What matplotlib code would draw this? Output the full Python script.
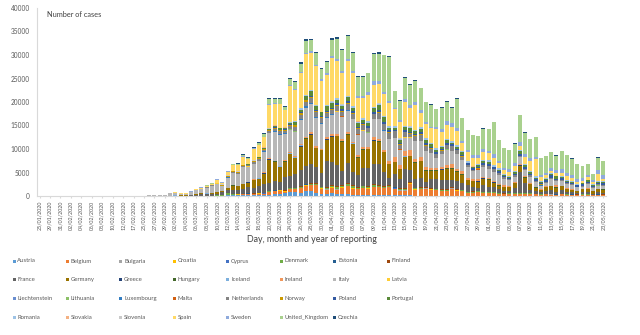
import numpy as np
import pandas as pd
import matplotlib as mpl
mpl.use('agg')
import matplotlib.pyplot as plt
from matplotlib.patches import Rectangle

plt.rcParams['font.family'] = ['Lato', 'DejaVu Sans']

# reporting days (gaps in early February, daily from 24/02)
early_days = ['25/01/2020', '27/01/2020', '29/01/2020', '30/01/2020', '31/01/2020',
              '01/02/2020', '02/02/2020', '03/02/2020', '04/02/2020', '05/02/2020',
              '06/02/2020', '07/02/2020', '08/02/2020', '09/02/2020', '10/02/2020',
              '11/02/2020', '12/02/2020', '15/02/2020', '17/02/2020']
dates = early_days + list(pd.date_range('2020-02-24', '2020-05-23').strftime('%d/%m/%Y'))

# daily new cases per country
austria = [0,0,0,0,0,0,0,0,0,0,0,0,0,0,0,0,0,0,0, 0,0,2,1,3,5,5,
    8,8,8,12,10,16,25,32,30,50,
    120,140,150,150,200,200,300,250,
    300,400,500,600,900,800,700,1141,1000,600,500,500,
    564,500,400,400,300,300,300,300,300,250,250,250,200,150,150,150,100,100,100,80,70,80,80,80,80,
    60,50,60,60,70,60,40,40,40,30,40,50,60,40,30,20,30,40,30,40,30,30,20,20,30,20,20,20]
belgium = [0,0,0,0,0,0,0,0,1,0,0,0,0,0,0,0,0,0,0, 0,0,0,0,0,0,1,
    0,6,10,5,60,60,60,30,39,28,
    160,130,160,200,170,190,200,240,
    460,560,590,310,526,668,900,1049,1300,1702,1063,876,
    1189,876,1384,1661,1260,1123,1380,1209,1580,1684,1351,1629,1329,1000,1000,2454,1236,1329,1487,1224,1142,973,933,1496,1032,
    1000,553,647,701,600,500,600,400,300,361,300,300,400,350,300,200,300,250,200,300,200,200,200,200,200,150,200,200]
bulgaria = [0,0,0,0,0,0,0,0,0,0,0,0,0,0,0,0,0,0,0, 0,0,0,0,0,0,0,
    0,0,0,0,0,0,4,0,0,2,
    1,16,0,20,10,14,30,11,
    36,20,15,16,18,10,22,13,20,30,27,40,
    40,30,20,20,25,35,40,48,25,10,20,30,30,45,30,40,35,80,25,60,40,30,40,60,50,
    30,40,20,50,40,40,60,70,30,20,60,30,40,50,60,80,40,30,20,40,40,30,20,10,20,40,30,30]
croatia = [0,0,0,0,0,0,0,0,0,0,0,0,0,0,0,0,0,0,0, 0,0,1,2,0,2,2,
    1,2,3,2,0,0,1,0,1,2,
    13,5,10,7,10,24,26,28,
    40,50,80,70,40,40,90,60,80,70,50,60,
    60,70,80,70,60,50,50,40,50,40,30,30,30,20,20,20,20,30,20,20,20,10,10,10,10,
    10,10,10,5,5,5,5,5,5,5,5,5,5,5,3,3,3,2,2,2,2,2,2,1,1,1,1,1]
cyprus = [0,0,0,0,0,0,0,0,0,0,0,0,0,0,0,0,0,0,0, 0,0,0,0,0,0,0,
    0,0,0,0,0,0,0,0,2,0,
    4,0,7,13,7,5,9,8,
    10,20,10,20,10,20,10,20,20,30,20,20,
    30,20,20,20,30,20,20,20,20,10,10,10,10,10,10,10,10,10,10,10,10,10,5,5,5,
    5,5,5,5,5,5,5,5,5,5,5,5,5,5,5,5,5,5,5,5,5,5,5,5,5,5,5,5]
denmark = [0,0,0,0,0,0,0,0,0,0,0,0,0,0,0,0,0,0,0, 0,0,0,0,1,1,1,
    0,1,5,5,10,8,7,15,70,170,
    250,160,35,40,80,70,95,100,
    150,100,90,60,120,140,210,150,180,130,200,250,
    280,370,270,340,390,230,290,300,330,200,180,180,190,270,210,170,200,150,130,110,150,160,210,100,130,
    150,150,120,160,130,140,130,100,90,130,140,160,140,110,80,60,70,80,60,70,80,50,60,90,70,50,60,40]
estonia = [0,0,0,0,0,0,0,0,0,0,0,0,0,0,0,0,0,0,0, 0,0,0,0,1,0,0,
    0,0,1,0,0,0,3,6,3,4,
    10,30,60,30,80,20,50,30,
    30,40,30,20,50,20,40,60,40,30,40,30,
    60,60,50,60,50,40,50,60,70,40,70,50,30,40,40,20,20,30,30,20,10,20,20,30,20,
    10,10,20,10,10,10,10,5,5,5,10,5,5,5,5,5,5,5,10,5,5,5,0,5,5,5,5,5]
finland = [0,0,0,1,0,0,0,0,0,0,0,0,0,0,0,0,0,0,0, 0,0,0,1,0,1,0,
    0,1,1,3,4,4,6,6,10,15,
    20,50,70,40,80,50,30,50,
    50,70,50,80,60,60,100,80,90,70,70,80,
    80,120,120,100,150,140,90,110,150,150,130,120,120,110,170,100,90,110,130,90,120,110,120,90,80,
    60,90,100,90,80,90,70,80,60,90,70,50,50,60,40,50,50,40,30,40,50,40,30,40,30,40,30,20]
france = [3,0,0,0,1,0,0,0,0,0,0,5,0,0,0,0,0,1,0, 2,0,2,20,20,10,40,
    30,60,73,138,190,336,230,286,372,497,
    595,785,838,924,1210,1097,1404,1861,
    1617,1847,1559,2800,2446,2931,3500,3809,4000,3500,3000,5500,
    4861,4500,3000,4267,2800,2500,3777,3881,4286,4342,3114,1613,2673,2000,4200,2633,2000,1909,1000,2000,2000,2000,2000,1600,1700,
    1500,1400,1000,700,1300,1000,1000,700,600,500,1100,4600,2000,600,600,500,456,802,500,700,500,400,400,500,400,200,400,400]
germany = [0,1,3,1,0,1,2,2,0,2,0,1,1,0,0,2,0,0,0, 0,0,6,30,10,30,50,
    66,36,40,80,200,240,170,250,300,350,
    500,900,800,1100,1000,1700,1500,2200,
    5000,4200,3250,3300,4764,3300,4954,5780,6294,3965,4751,4615,
    5453,6156,6174,6082,5936,3677,3834,4003,4974,4800,4133,2821,2537,2082,2486,2866,3380,3609,2458,1775,1785,2237,2352,2337,2055,
    1737,1018,1144,1304,1478,1639,945,793,679,685,947,1284,1209,1251,667,357,933,798,933,913,620,583,342,513,797,460,745,638]
greece = [0,0,0,0,0,0,0,0,0,0,0,0,0,0,0,0,0,0,0, 0,0,0,1,2,1,0,
    1,6,5,2,5,14,13,28,16,10,
    22,17,38,43,29,35,15,80,
    80,30,50,60,70,100,70,50,90,50,60,90,
    80,70,50,60,60,60,50,40,40,30,30,40,20,20,20,30,20,30,20,10,20,10,10,20,10,
    10,10,20,10,10,10,20,10,10,20,10,10,10,10,5,5,10,10,5,10,10,5,5,10,10,5,10,5]
hungary = [0,0,0,0,0,0,0,0,0,0,0,0,0,0,0,0,0,0,0, 0,0,0,0,0,0,0,
    0,0,0,2,0,2,2,1,4,2,
    3,3,3,2,10,7,11,5,
    20,20,20,40,30,40,40,40,40,40,30,40,
    40,40,60,60,70,70,60,60,80,100,80,80,90,60,60,50,50,60,100,100,90,80,90,70,80,
    70,60,50,50,40,50,40,40,40,40,30,30,30,40,30,30,30,30,20,30,30,30,20,20,20,20,30,20]
iceland = [0,0,0,0,0,0,0,0,0,0,0,0,0,0,0,0,0,0,0, 0,0,0,0,0,1,0,
    1,5,3,10,6,10,12,10,15,20,
    20,30,20,40,30,70,80,60,
    80,70,60,70,90,100,110,80,60,50,60,50,
    90,50,40,50,40,30,30,20,30,20,10,20,10,10,10,10,5,5,5,5,5,5,3,3,3,
    3,2,1,1,1,0,0,1,0,0,1,0,0,0,1,0,0,0,0,1,0,0,0,0,0,0,1,0]
ireland = [0,0,0,0,0,0,0,0,0,0,0,0,0,0,0,0,0,0,0, 0,0,0,0,0,1,0,
    1,0,1,4,5,13,5,3,0,10,
    9,27,20,40,60,50,70,190,
    130,100,130,120,200,200,235,255,302,294,200,325,
    295,325,424,331,390,370,365,345,515,500,480,553,992,832,1068,1220,709,777,597,493,401,388,631,936,577,
    701,400,386,376,359,376,221,330,375,265,159,350,221,236,129,100,159,107,426,64,120,100,50,70,60,50,50,50]
italy = [0,0,0,0,2,0,0,0,0,0,0,1,0,0,0,0,0,0,0, 70,100,100,200,230,200,450,
    600,360,340,587,769,778,1247,1492,1797,977,
    2200,2651,2547,3497,3300,3300,3526,4207,
    5322,5986,6557,5560,4789,5249,5210,6153,5959,5974,5217,4050,
    4053,4782,4668,4585,4805,4316,3599,3039,3836,4204,3951,4694,4092,3153,2972,2667,3786,3493,3491,3047,2256,2729,3370,2646,3021,
    2357,2324,1739,2091,2086,1872,1965,1900,1389,1221,1075,1444,1401,1327,1083,802,744,1402,888,992,789,875,675,451,813,665,642,652]
latvia = [0,0,0,0,0,0,0,0,0,0,0,0,0,0,0,0,0,0,0, 0,0,0,0,0,0,0,
    0,0,1,0,0,0,1,0,4,3,
    9,4,4,8,20,10,15,10,
    10,30,20,20,20,20,30,20,30,30,30,20,
    20,20,20,20,10,20,10,20,20,10,20,10,10,10,10,10,10,10,10,10,10,10,5,5,5,
    5,5,5,5,5,5,5,5,5,5,5,5,5,5,5,5,5,5,5,5,5,5,5,5,5,5,5,5]
liechtenstein = [0,0,0,0,0,0,0,0,0,0,0,0,0,0,0,0,0,0,0, 0,0,0,0,0,0,0,
    0,0,0,0,0,0,0,0,0,0,
    0,0,1,1,2,0,1,2,
    3,2,5,5,5,5,5,5,5,5,5,5,
    3,3,3,2,2,2,2,1,1,1,1,1,1,1,1,0,0,0,0,0,0,0,0,0,0,
    0,0,0,0,0,0,0,0,0,0,0,0,0,0,0,0,0,0,0,0,0,0,0,0,0,0,0,0]
lithuania = [0,0,0,0,0,0,0,0,0,0,0,0,0,0,0,0,0,0,0, 0,0,0,0,1,0,0,
    0,0,0,0,0,0,1,0,0,1,
    0,1,2,2,6,5,8,10,
    20,20,30,40,50,50,50,30,50,40,40,30,
    30,40,40,30,30,40,30,30,20,30,20,40,30,30,20,20,30,20,20,20,20,20,30,20,20,
    20,10,10,10,10,20,10,10,10,10,10,10,10,10,10,10,10,10,10,10,5,5,10,5,10,5,5,10]
luxembourg = [0,0,0,0,0,0,0,0,0,0,0,0,0,0,0,0,0,0,0, 0,0,0,0,0,0,0,
    0,0,0,0,1,1,1,0,2,2,
    3,10,20,30,40,60,120,130,
    80,200,130,140,140,150,200,250,200,140,150,140,
    120,100,90,80,70,60,100,60,50,50,70,40,40,50,40,30,40,30,20,20,20,20,20,10,20,
    10,10,10,10,10,10,5,5,5,5,10,10,10,5,5,5,5,5,5,5,5,5,5,5,5,5,5,5]
malta = [0,0,0,0,0,0,0,0,0,0,0,0,0,0,0,0,0,0,0, 0,0,0,0,0,0,0,
    0,0,0,0,0,0,1,0,2,1,
    2,3,1,8,3,1,17,5,
    10,10,10,10,10,10,10,10,20,10,10,10,
    10,10,10,10,10,10,10,10,10,10,10,5,5,5,5,5,5,5,5,5,5,5,5,5,5,
    5,5,5,5,5,5,5,5,5,5,5,5,5,5,5,5,5,5,5,5,5,5,5,5,5,5,5,5]
netherlands = [0,0,0,0,0,0,0,0,0,0,0,0,0,0,0,0,0,0,0, 0,0,0,0,1,6,10,
    8,6,14,20,44,46,60,77,56,61,
    121,111,155,176,155,278,292,346,
    409,534,637,573,545,811,852,1019,1172,1159,1104,884,
    1019,1083,1019,1224,904,1224,952,777,969,1213,1316,1174,1335,1000,1120,734,1061,1235,1066,964,750,729,887,1022,800,
    655,400,171,200,386,475,514,445,335,199,386,232,155,319,210,199,161,199,227,193,186,125,90,99,200,150,200,200]
norway = [0,0,0,0,0,0,0,0,0,0,0,0,0,0,0,0,0,0,0, 0,0,0,1,0,5,6,
    0,2,5,10,30,15,25,40,80,200,
    220,150,100,150,100,170,180,180,
    150,200,170,160,250,300,300,250,180,230,150,200,
    180,230,200,260,180,160,180,120,140,130,120,170,100,120,80,90,100,70,80,100,90,60,100,40,70,
    60,50,40,50,40,30,40,30,20,30,30,20,30,20,20,20,10,20,10,20,10,10,20,10,20,10,10,10]
poland = [0,0,0,0,0,0,0,0,0,0,0,0,0,0,0,0,0,0,0, 0,0,0,0,0,0,0,
    0,0,1,0,0,0,5,5,6,17,
    20,20,40,20,50,50,45,100,
    70,110,80,115,150,170,190,170,250,180,190,240,
    250,240,320,400,470,280,280,370,370,470,320,380,260,270,370,300,300,460,500,360,300,340,320,380,260,
    260,330,340,320,400,430,380,330,300,300,330,380,290,320,300,340,400,600,270,300,320,320,290,400,320,270,300,400]
portugal = [0,0,0,0,0,0,0,0,0,0,0,0,0,0,0,0,0,0,0, 0,0,0,0,0,0,0,
    2,2,2,4,3,8,9,9,11,11,
    20,19,34,57,80,86,200,190,
    200,260,320,260,300,600,550,724,902,792,800,1035,
    1000,808,783,852,638,754,712,699,815,1000,1000,598,349,629,643,750,600,663,657,521,516,371,603,371,444,
    595,163,183,295,300,500,200,300,200,100,400,500,500,400,300,200,234,219,553,300,200,200,150,200,300,200,250,250]
romania = [0,0,0,0,0,0,0,0,0,0,0,0,0,0,0,0,0,0,0, 0,0,0,1,0,2,0,
    0,0,1,1,2,3,0,5,6,6,
    22,13,15,42,19,41,45,16,
    50,120,70,100,140,110,260,220,200,190,140,190,
    250,330,160,190,430,330,300,350,280,340,330,280,360,280,220,380,250,410,350,190,310,270,360,320,280,
    230,250,190,300,320,290,230,300,270,310,250,220,200,220,260,190,190,150,130,230,180,150,210,180,170,200,170,190]
slovakia = [0,0,0,0,0,0,0,0,0,0,0,0,0,0,0,0,0,0,0, 0,0,0,0,0,0,0,
    0,0,0,0,0,1,2,2,3,0,
    3,12,11,12,30,10,30,20,
    20,40,20,30,30,30,30,50,20,30,30,40,
    20,30,40,30,40,50,20,40,40,30,30,30,20,30,30,20,10,20,20,20,10,10,10,10,10,
    10,5,5,5,5,5,5,5,5,3,3,3,3,3,5,3,3,2,2,2,2,2,2,2,2,2,2,2]
slovenia = [0,0,0,0,0,0,0,0,0,0,0,0,0,0,0,0,0,0,0, 0,0,0,0,0,0,0,
    0,0,0,1,1,2,8,4,5,10,
    40,50,80,40,30,20,10,30,
    30,40,30,40,40,40,40,50,30,40,40,30,
    40,40,40,30,30,30,30,20,30,20,20,20,10,20,10,20,20,10,10,10,10,10,10,5,5,
    5,5,3,3,5,3,5,2,3,2,2,2,3,2,1,1,3,2,1,1,2,3,1,1,1,2,1,1]
spain = [0,0,0,0,0,1,0,0,0,0,0,0,0,0,1,0,0,0,0, 0,2,6,8,10,15,20,
    39,60,40,60,110,220,240,260,560,400,
    700,1200,1300,1650,1000,2500,2470,2130,
    5000,4500,5000,3600,7600,6584,7400,8578,7871,8189,6549,6398,
    9222,7719,6600,7472,7026,5000,4273,5478,4680,4056,4576,4830,3547,3477,5092,4000,5252,3050,2950,3100,3996,3020,2980,3040,2960,
    1729,2000,1800,1200,1600,1500,1600,1000,800,800,900,1000,1500,2000,3700,800,594,600,500,700,800,600,400,400,500,500,1500,500]
sweden = [0,0,0,0,0,1,0,0,0,0,0,0,0,0,0,0,0,0,0, 0,0,0,1,6,5,0,
    7,1,13,20,40,40,66,42,120,120,
    160,150,160,100,130,100,120,100,
    200,150,130,100,300,240,300,400,350,300,330,330,
    400,500,600,500,450,400,500,700,700,700,500,500,400,400,500,500,600,600,500,400,500,600,700,750,800,
    500,400,600,680,700,500,800,500,400,500,700,800,600,600,500,400,500,600,700,800,600,600,500,500,500,400,800,700]
united_kingdom = [0,0,0,0,0,2,0,0,0,0,0,1,0,0,4,0,1,0,0, 0,0,0,0,4,3,12,
    13,4,11,34,30,48,43,67,46,50,
    85,130,200,340,230,150,400,600,
    1123,881,1027,671,1267,1412,1742,2454,2335,2581,2144,2492,
    3511,4348,4273,4824,3784,4079,3976,3930,5889,5850,7748,9472,3490,4176,4583,4361,4631,4595,4139,4636,3794,4513,4186,3329,6168,
    4816,4292,4340,3973,4351,4698,6745,4512,4132,4129,4183,5650,4604,4107,4131,3742,3539,3303,3063,3698,3835,3567,3283,2617,2380,1245,2673,2980]
czechia = [0,0,0,0,0,0,0,0,0,0,0,0,0,0,0,0,0,0,0, 0,0,0,0,0,0,3,
    0,3,2,0,3,7,11,8,16,22,
    30,20,45,80,50,80,130,150,
    90,180,120,230,220,260,300,370,250,250,170,230,
    300,290,250,230,260,140,230,170,200,280,150,120,100,130,80,100,120,60,90,70,60,70,110,120,50,
    60,80,30,50,90,60,100,50,30,40,80,60,50,30,30,30,10,40,40,40,60,70,50,40,30,70,50,60]

countries = ['Austria', 'Belgium', 'Bulgaria', 'Croatia', 'Cyprus', 'Denmark', 'Estonia', 'Finland',
             'France', 'Germany', 'Greece', 'Hungary', 'Iceland', 'Ireland', 'Italy', 'Latvia',
             'Liechtenstein', 'Lithuania', 'Luxembourg', 'Malta', 'Netherlands', 'Norway', 'Poland', 'Portugal',
             'Romania', 'Slovakia', 'Slovenia', 'Spain', 'Sweden', 'United_Kingdom', 'Czechia']
series = [austria, belgium, bulgaria, croatia, cyprus, denmark, estonia, finland,
          france, germany, greece, hungary, iceland, ireland, italy, latvia,
          liechtenstein, lithuania, luxembourg, malta, netherlands, norway, poland, portugal,
          romania, slovakia, slovenia, spain, sweden, united_kingdom, czechia]
colors = ['#5B9BD5', '#ED7D31', '#A5A5A5', '#FFC000', '#4472C4', '#70AD47', '#255E91', '#9E480E',
          '#636363', '#997300', '#264478', '#43682B', '#7CAFDD', '#F1975A', '#B7B7B7', '#FFCD33',
          '#698ED0', '#8CC168', '#327DC2', '#D26012', '#848484', '#CC9A00', '#335AA1', '#5A8A39',
          '#9DC3E6', '#F4B183', '#C9C9C9', '#FFD966', '#8FAADC', '#A9D18E', '#1F4E79']

for name, vals in zip(countries, series):
    if len(vals) != len(dates):
        raise ValueError('%s has %d values, expected %d' % (name, len(vals), len(dates)))

W, H = 640, 335
fig = plt.figure(figsize=(W / 100, H / 100), dpi=100)
ax = fig.add_axes([37 / W, 139 / H, 569 / W, 188 / H])

x = np.arange(len(dates))
bottom = np.zeros(len(dates))
for name, vals, col in zip(countries, series, colors):
    vals = np.array(vals, dtype=float)
    ax.bar(x, vals, 0.76, bottom=bottom, color=col, linewidth=0, label=name)
    bottom += vals

ax.set_xlim(-0.5, len(dates) - 0.5)
ax.set_ylim(0, 40000)
ax.set_yticks(np.arange(0, 40001, 5000))
ax.set_xticks(x[::2])
ax.set_xticklabels(dates[::2], rotation=90, fontsize=3.9, color='#595959')
ax.tick_params(axis='y', labelsize=4.7, labelcolor='#595959', length=0, pad=5)
ax.tick_params(axis='x', length=1.5, color='#D9D9D9', pad=2)
for s in ['top', 'right']:
    ax.spines[s].set_visible(False)
for s in ['left', 'bottom']:
    ax.spines[s].set_color('#D9D9D9')
    ax.spines[s].set_linewidth(0.8)

ax.text(0.017, 0.985, 'Number of cases', transform=ax.transAxes, fontsize=5.3,
        color='#404040', ha='left', va='top')
fig.text(312 / W, 1 - 240 / H, 'Day, month and year of reporting', fontsize=6.4,
         color='#404040', ha='center', va='center')

# legend laid out row by row, 8 entries per row
for k, (name, col) in enumerate(zip(countries, colors)):
    r, c = divmod(k, 8)
    px = 12.5 + c * 53.45
    py = 261 + r * 18.8
    fig.add_artist(Rectangle((px / W, 1 - (py + 1.5) / H), 3.0 / W, 3.0 / H,
                             transform=fig.transFigure, color=col, linewidth=0))
    fig.text((px + 4.8) / W, 1 - py / H, name, fontsize=4.3, color='#595959',
             ha='left', va='center')

fig.savefig('out.png', dpi=100)
